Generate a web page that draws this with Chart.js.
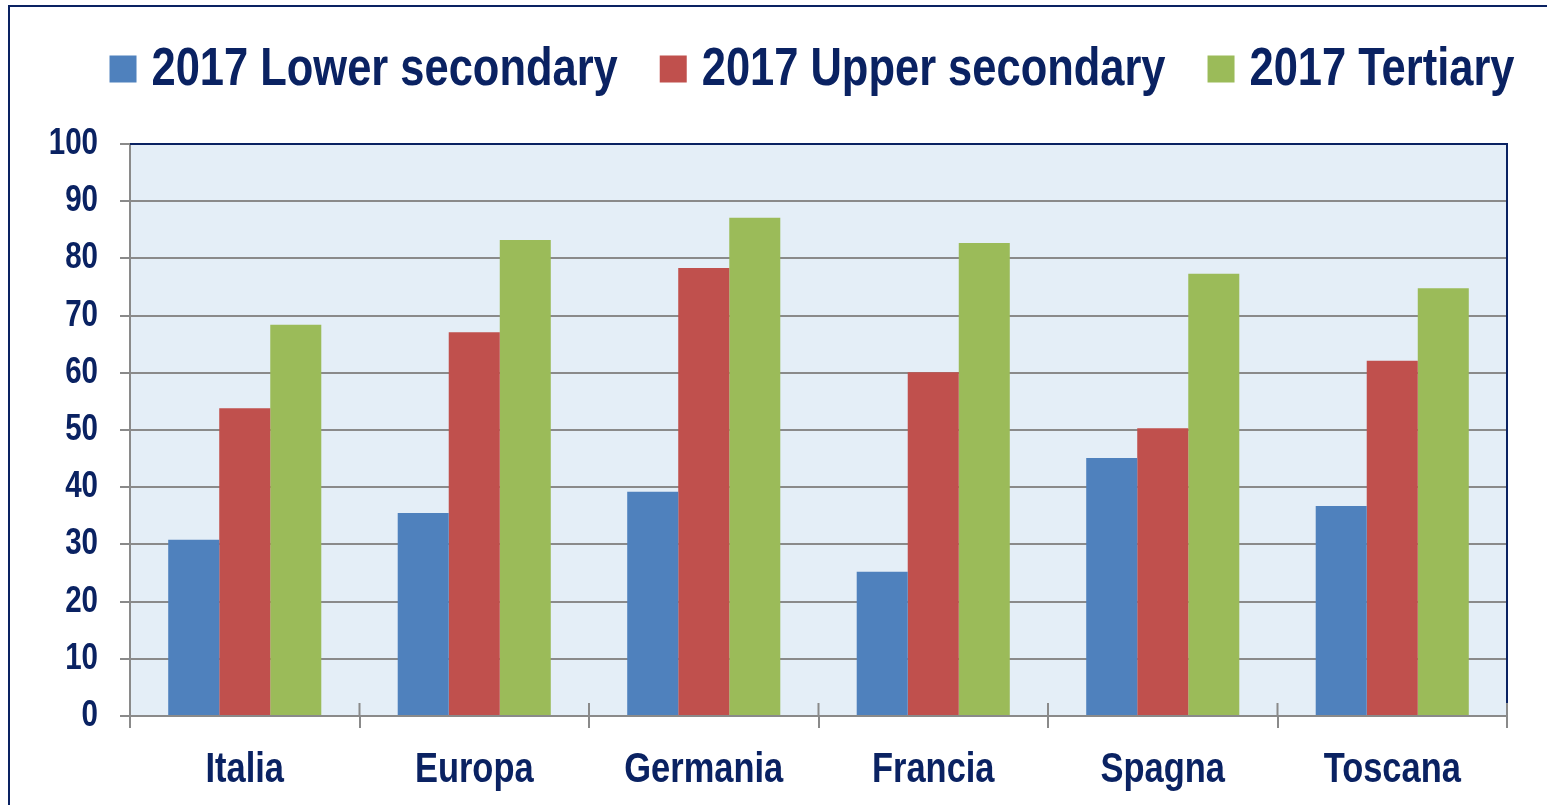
<!DOCTYPE html>
<html>
<head>
<meta charset="utf-8">
<script src="https://cdn.jsdelivr.net/npm/chart.js@4/dist/chart.umd.min.js"></script>
<style>
html,body{margin:0;padding:0;background:#fff;}
#wrap{position:relative;width:1547px;height:805px;}
</style>
</head>
<body>
<div id="wrap"><canvas id="c" width="1547" height="805"></canvas></div>
<script>
const categories = ['Italia', 'Europa', 'Germania', 'Francia', 'Spagna', 'Toscana'];
const seriesNames = ['2017 Lower secondary', '2017 Upper secondary', '2017 Tertiary'];
const lowerSecondary = [30.8, 35.5, 39.2, 25.2, 45.1, 36.7];
const upperSecondary = [53.8, 67.1, 78.3, 60.1, 50.3, 62.1];
const tertiary = [68.4, 83.2, 87.1, 82.7, 77.3, 74.8];
const seriesColors = ['#4f81bd', '#c0504d', '#9bbb59'];

const NAVY = '#0a2262';
const GRID = '#8a8a8a';
const FONT = "'Liberation Sans Narrow', 'Arial Narrow', 'Liberation Sans', Arial, sans-serif";
const SX = 0.82; // narrow (condensed) rendering of the bold sans face

const canvas = document.getElementById('c');
const ctx0 = canvas.getContext('2d');
const origFill = ctx0.fillText.bind(ctx0);
const origMeasure = ctx0.measureText.bind(ctx0);
ctx0.fillText = function (t, x, y) {
  this.save();
  this.translate(x, y);
  this.scale(SX, 1);
  origFill(t, 0, 0);
  this.restore();
};
ctx0.measureText = function (t) {
  const m = origMeasure(t);
  return {
    width: m.width * SX,
    actualBoundingBoxAscent: m.actualBoundingBoxAscent,
    actualBoundingBoxDescent: m.actualBoundingBoxDescent,
    actualBoundingBoxLeft: m.actualBoundingBoxLeft * SX,
    actualBoundingBoxRight: m.actualBoundingBoxRight * SX,
    fontBoundingBoxAscent: m.fontBoundingBoxAscent,
    fontBoundingBoxDescent: m.fontBoundingBoxDescent
  };
};

const frame = {
  id: 'frame',
  beforeDraw(chart) {
    const {ctx, chartArea: a} = chart;
    ctx.save();
    ctx.fillStyle = '#e4eef7';
    ctx.fillRect(a.left, a.top, a.right - a.left, a.bottom - a.top);
    ctx.restore();
  },
  afterDraw(chart) {
    const {ctx, chartArea: a} = chart;
    const x = chart.scales.x;
    ctx.save();
    // outer border
    ctx.strokeStyle = NAVY;
    ctx.lineWidth = 2;
    ctx.strokeRect(9, 6, 1600, 900);
    // plot area top & right border
    ctx.beginPath();
    ctx.moveTo(a.left, a.top);
    ctx.lineTo(a.right, a.top);
    ctx.lineTo(a.right, a.bottom - 13);
    ctx.stroke();
    // category tick marks crossing the axis
    ctx.strokeStyle = GRID;
    ctx.beginPath();
    for (let i = 1; i <= categories.length; i++) {
      const px = i < categories.length
        ? (x.getPixelForValue(i - 1) + x.getPixelForValue(i)) / 2
        : a.right;
      ctx.moveTo(px, a.bottom - 13);
      ctx.lineTo(px, a.bottom);
    }
    ctx.stroke();

    // legend
    const ds = chart.data.datasets;
    const box = 27, gapText = 15, gapItem = 42, centerX = 812, centerY = 69;
    ctx.font = 'bold 53px ' + FONT;
    ctx.textBaseline = 'middle';
    ctx.textAlign = 'left';
    const widths = ds.map(d => ctx.measureText(d.label).width);
    const total = widths.reduce((s, w) => s + w + box + gapText, 0) + gapItem * (ds.length - 1);
    let cx = centerX - total / 2;
    ds.forEach((d, i) => {
      ctx.fillStyle = d.backgroundColor;
      ctx.fillRect(cx, centerY - box / 2, box, box);
      cx += box + gapText;
      ctx.fillStyle = NAVY;
      ctx.fillText(d.label, cx, centerY + 1);
      cx += widths[i] + gapItem;
    });
    ctx.restore();
  }
};

new Chart(canvas, {
  type: 'bar',
  data: {
    labels: categories,
    datasets: [
      {label: seriesNames[0], data: lowerSecondary, backgroundColor: seriesColors[0]},
      {label: seriesNames[1], data: upperSecondary, backgroundColor: seriesColors[1]},
      {label: seriesNames[2], data: tertiary, backgroundColor: seriesColors[2]}
    ]
  },
  options: {
    responsive: false,
    animation: false,
    events: [],
    layout: {padding: {left: 0, right: 40, top: 144, bottom: 0}},
    datasets: {bar: {categoryPercentage: 0.667, barPercentage: 1.0, borderWidth: 0}},
    plugins: {
      tooltip: {enabled: false},
      legend: {display: false}
    },
    scales: {
      x: {
        offset: true,
        grid: {offset: true, drawOnChartArea: false, drawTicks: true, tickLength: 12, color: GRID, lineWidth: 2},
        border: {display: true, color: GRID, width: 2},
        ticks: {color: NAVY, font: {family: FONT, size: 42, weight: 'bold'}, padding: 17, maxRotation: 0, autoSkip: false},
        afterFit(s) { s.height = 89; }
      },
      y: {
        min: 0, max: 100,
        grid: {color: GRID, lineWidth: 2, tickLength: 10},
        border: {display: true, color: GRID, width: 2},
        ticks: {stepSize: 10, autoSkip: false, color: NAVY, font: {family: FONT, size: 36, weight: 'bold'}, padding: 22},
        afterFit(s) { s.width = 130; }
      }
    }
  },
  plugins: [frame]
});
</script>
</body>
</html>
